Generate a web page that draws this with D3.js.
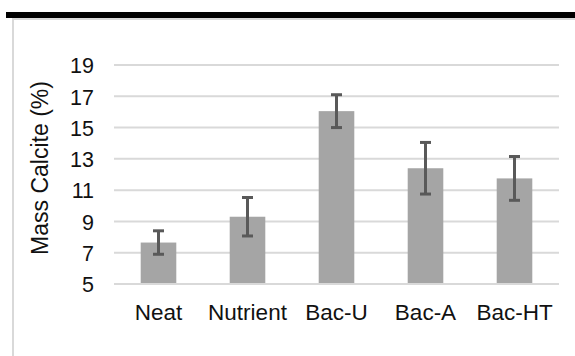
<!DOCTYPE html>
<html><head><meta charset="utf-8">
<script src="https://cdn.jsdelivr.net/npm/d3@7"></script>
<style>body{margin:0;background:#fff;}svg{display:block;}text{font-family:"Liberation Sans",Arial,sans-serif;}</style>
</head><body>
<script>
const categories = ["Neat","Nutrient","Bac-U","Bac-A","Bac-HT"];
const values = [7.65, 9.3, 16.05, 12.4, 11.75];
const errors = [0.75, 1.23, 1.05, 1.65, 1.4];
const yTicks = [5,7,9,11,13,15,17,19];
const yTitle = "Mass Calcite (%)";

const W=575,H=356;
const svg=d3.select("body").append("svg").attr("width",W).attr("height",H);
// frame
svg.append("rect").attr("x",6).attr("y",12).attr("width",W-6).attr("height",6).attr("fill","#000");
svg.append("rect").attr("x",12).attr("y",18).attr("width",W-12).attr("height",2).attr("fill","#d9d9d9");
svg.append("rect").attr("x",12).attr("y",18).attr("width",2).attr("height",H-18).attr("fill","#d9d9d9");

const x=d3.scaleBand().domain(categories).range([114,559]).paddingInner(0.6).paddingOuter(0.3);
const y=d3.scaleLinear().domain([5,19]).range([284,65]);

const g=svg.append("g");
g.selectAll("line.grid").data(yTicks).join("line").attr("class","grid")
  .attr("x1",114).attr("x2",559).attr("y1",d=>y(d)).attr("y2",d=>y(d))
  .attr("stroke","#d9d9d9").attr("stroke-width",2);

const yAxis=svg.append("g").attr("transform","translate(94,0)")
  .call(d3.axisLeft(y).tickValues(yTicks).tickSize(0).tickPadding(0));
yAxis.select(".domain").remove();
yAxis.selectAll("text").attr("font-size",21.5).attr("fill","#111").attr("dy","0.36em");

g.selectAll("rect.bar").data(categories).join("rect").attr("class","bar")
  .attr("x",d=>x(d)).attr("width",x.bandwidth())
  .attr("y",(d,i)=>y(values[i])).attr("height",(d,i)=>y(5)-y(values[i])-1)
  .attr("fill","#a5a5a5");

const eb=g.selectAll("g.err").data(categories).join("g").attr("class","err");
eb.append("line").attr("x1",d=>x(d)+x.bandwidth()/2).attr("x2",d=>x(d)+x.bandwidth()/2)
  .attr("y1",(d,i)=>y(values[i]+errors[i])).attr("y2",(d,i)=>y(values[i]-errors[i]))
  .attr("stroke","#595959").attr("stroke-width",3);
[1,-1].forEach(s=>{
  eb.append("line").attr("x1",d=>x(d)+x.bandwidth()/2-5.5).attr("x2",d=>x(d)+x.bandwidth()/2+5.5)
    .attr("y1",(d,i)=>y(values[i]+s*errors[i])).attr("y2",(d,i)=>y(values[i]+s*errors[i]))
    .attr("stroke","#595959").attr("stroke-width",3);
});

const xAxis=svg.append("g").attr("transform","translate(0,320)")
  .call(d3.axisBottom(x).tickSize(0).tickPadding(0));
xAxis.select(".domain").remove();
xAxis.selectAll("text").attr("font-size",22.5).attr("fill","#111").attr("dy",0);

svg.append("text").attr("transform","translate(48,168) rotate(-90)")
  .attr("text-anchor","middle").attr("font-size",23).attr("fill","#111").text(yTitle);
</script>
</body></html>
